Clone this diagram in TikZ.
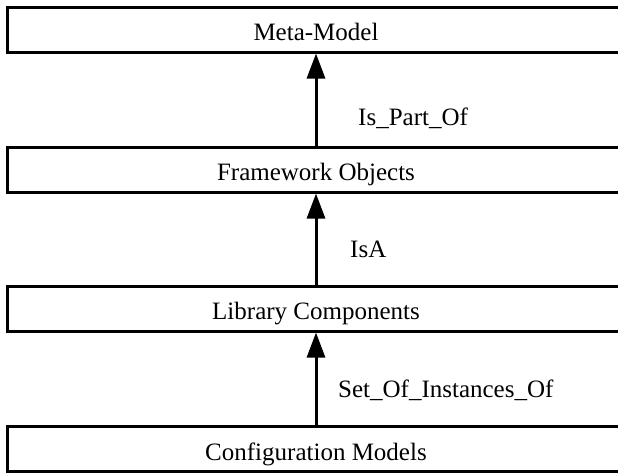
\documentclass[tikz,border=0pt]{standalone}
\usepackage{fontspec}
\setmainfont{Liberation Serif}
\usetikzlibrary{arrows.meta}
\begin{document}
\begin{tikzpicture}[x=1pt,y=-1pt,
  layerbox/.style={draw=black, line width=3pt, inner sep=0pt,
    minimum width=618pt, minimum height=45pt,
    text height=22pt, text depth=0pt,
    font=\fontsize{25pt}{30pt}\selectfont},
  relarrow/.style={line width=3pt, -{Triangle[length=25pt,width=18pt]}},
  rellabel/.style={anchor=base west, inner sep=0pt,
    font=\fontsize{25pt}{30pt}\selectfont}]
  \useasboundingbox (0,0) rectangle (618,474);
  \clip (0,0) rectangle (618,474);
  % the four layers, stacked top to bottom
  \node[layerbox] (meta)   at (316,29.5)  {Meta-Model};
  \node[layerbox] (frame)  at (316,169.5) {Framework Objects};
  \node[layerbox] (lib)    at (316,308.5) {Library Components};
  \node[layerbox] (config) at (316,449)   {Configuration Models};
  % relations between neighbouring layers
  \draw[relarrow] (frame.north)  -- (meta.south);
  \draw[relarrow] (lib.north)    -- (frame.south);
  \draw[relarrow] (config.north) -- (lib.south);
  \node[rellabel] (l1) at (358,125) {Is\_Part\_Of};
  \node[rellabel] (l2) at (350,257) {IsA};
  \node[rellabel] (l3) at (338,397) {Set\_Of\_Instances\_Of};
\end{tikzpicture}
\end{document}
